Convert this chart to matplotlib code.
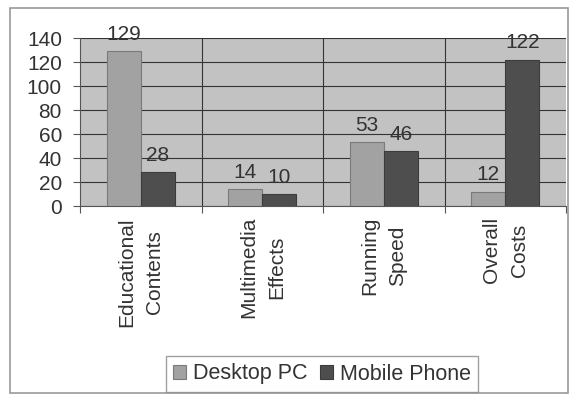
import numpy as np
import matplotlib.pyplot as plt
from matplotlib.patches import Rectangle

categories = ['Educational\nContents', 'Multimedia\nEffects', 'Running\nSpeed', 'Overall\nCosts']
desktop = [129, 14, 53, 12]
mobile = [28, 10, 46, 122]
yticks = [0, 20, 40, 60, 80, 100, 120, 140]

plt.rcParams['font.family'] = ['Liberation Sans', 'DejaVu Sans']

fig = plt.figure(figsize=(5.71, 3.97), dpi=100)
fig.patch.set_facecolor('white')
fig.patches.append(Rectangle((10 / 571, 4 / 397), 558 / 571, 385 / 397, transform=fig.transFigure,
                             fill=False, edgecolor='#999999', linewidth=1.2))

ax = fig.add_axes([80 / 571, 1 - 206 / 397, 486 / 571, 168 / 397])
ax.set_facecolor('#c2c2c2')

x = np.arange(len(categories))
width = 0.28
b1 = ax.bar(x - width / 2, desktop, width, color='#a2a2a2', edgecolor='#7a7a7a', linewidth=0.8,
            label='Desktop PC', zorder=3)
b2 = ax.bar(x + width / 2, mobile, width, color='#4e4e4e', edgecolor='#3c3c3c', linewidth=0.8,
            label='Mobile Phone', zorder=3)

for bars in [b1, b2]:
    for bar in bars:
        h = bar.get_height()
        ax.text(bar.get_x() + bar.get_width() / 2, h + 6, f'{h:.0f}',
                ha='center', va='bottom', fontsize=15, color='#333333', zorder=4,
                clip_on=False)

ax.set_ylim(0, 140)
ax.set_yticks(yticks)
ax.yaxis.grid(True, color='#333333', linewidth=0.8, zorder=1)
ax.set_xlim(-0.5, len(categories) - 0.5)
for b in np.arange(0.5, len(categories) - 0.5, 1):
    ax.axvline(b, color='#333333', linewidth=0.8, zorder=1)

ax.set_xticks(np.arange(-0.5, len(categories), 1))
ax.set_xticklabels([])
ax.set_xticks(x, minor=True)
ax.set_xticklabels(categories, minor=True, rotation=90, fontsize=15, va='top', ha='center',
                   linespacing=1.6, color='#333333')
ax.tick_params(axis='x', which='minor', length=0, pad=8)
ax.tick_params(axis='x', which='major', length=5, color='#555555')
ax.tick_params(axis='y', length=5, color='#555555', labelsize=15, pad=8, labelcolor='#333333')

for s in ['top', 'right']:
    ax.spines[s].set_visible(False)
ax.spines['left'].set_color('#555555')
ax.spines['bottom'].set_color('#555555')

leg = fig.legend(handles=[b1, b2], labels=['Desktop PC', 'Mobile Phone'], loc='center',
                 bbox_to_anchor=(322 / 571, 1 - 374 / 397), ncol=2, fontsize=15.5, frameon=True,
                 fancybox=False, edgecolor='#888888', handlelength=0.6, handleheight=0.6,
                 handletextpad=0.3, columnspacing=0.6, borderpad=0.35)
for t in leg.get_texts():
    t.set_color('#333333')

plt.savefig('out.png', dpi=100)
